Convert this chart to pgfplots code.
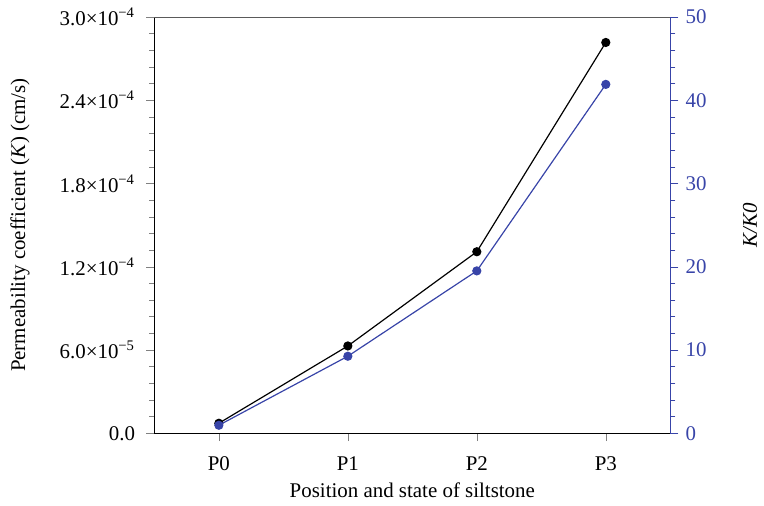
\documentclass[border=0pt]{standalone}
\usepackage{fontspec}
\setmainfont{Liberation Serif}
\usepackage{pgfplots}
\pgfplotsset{compat=1.18}
\definecolor{kblue}{RGB}{56,68,168}
\definecolor{spine}{RGB}{90,90,90}

\begin{document}
\fontsize{10.5}{12}\selectfont
\begin{tikzpicture}
\pgfplotsset{
  base/.style={
    scale only axis, width=259pt, height=209pt,
    at={(0,0)}, anchor=south west,
    xmin=-0.5, xmax=3.5,
    tick align=outside,
    major tick length=4pt, minor tick length=2.5pt,
    tick label style={font=\fontsize{10.5}{12}\selectfont},
    label style={font=\fontsize{10.5}{12}\selectfont},
    /pgf/number format/assume math mode=true,
  }
}
\begin{axis}[base,
  axis x line*=bottom, axis y line*=left,
  ymin=0, ymax=3.0e-4,
  xtick={0,1,2,3}, xticklabels={P0,P1,P2,P3},
  xticklabel style={yshift=-4pt},
  yticklabel style={xshift=-2pt},
  ytick={0,6e-5,1.2e-4,1.8e-4,2.4e-4,3.0e-4},
  yticklabels={0.0,6.0×10\textsuperscript{−5},1.2×10\textsuperscript{−4},1.8×10\textsuperscript{−4},2.4×10\textsuperscript{−4},3.0×10\textsuperscript{−4}},
  scaled y ticks=false,
  minor y tick num=4,
  xlabel={Position and state of siltstone},
  ylabel={Permeability coefficient (\textit{K}) (cm/s)},
  xlabel style={at={([yshift=-28.5pt]axis description cs:0.5,0)}, anchor=center},
  ylabel style={at={([xshift=-67.5pt]axis description cs:0,0.5)}, anchor=center},
]
\addplot[black, line width=0.6pt, mark=*, mark size=2pt] coordinates {
  (0,7.2e-6) (1,6.29e-5) (2,1.308e-4) (3,2.816e-4)
};
\end{axis}
\begin{axis}[base,
  axis x line*=top, axis y line*=right,
  x axis line style={spine},
  y axis line style={kblue},
  xtick=\empty,
  ymin=0, ymax=50,
  ytick={0,10,20,30,40,50},
  minor y tick num=4,
  y tick style={kblue},
  yticklabel style={kblue},
  ylabel={\textit{K/K0}},
  ylabel style={black, at={([xshift=40pt]axis description cs:1,0.5)}, anchor=center},
]
\addplot[kblue, line width=0.6pt, mark=*, mark size=2pt] coordinates {
  (0,0.96) (1,9.25) (2,19.5) (3,41.9)
};
\end{axis}
\path (-77.5pt,-36.5pt) rectangle (304.5pt,217.5pt);
\end{tikzpicture}
\end{document}
